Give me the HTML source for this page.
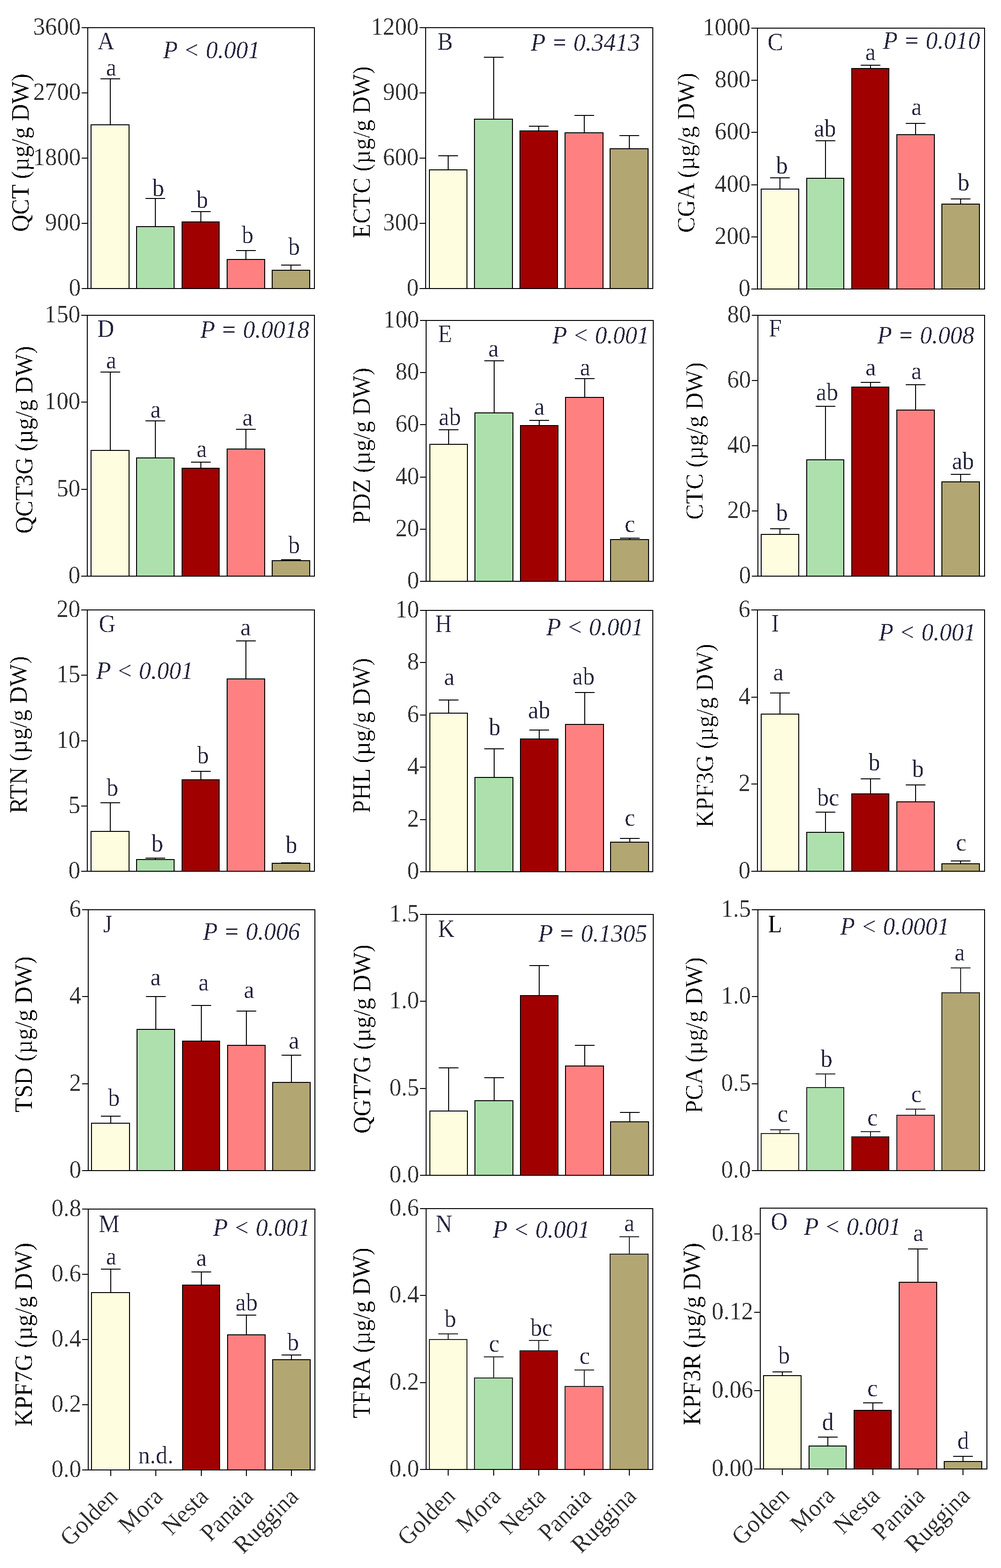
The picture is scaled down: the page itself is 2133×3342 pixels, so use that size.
<!DOCTYPE html>
<html><head><meta charset="utf-8"><title>Figure</title>
<style>
html,body{margin:0;padding:0;background:#fff;}
svg{display:block;}
text{font-family:'Liberation Serif', 'Times New Roman', serif;}
.e{stroke:#000;stroke-width:2;fill:none;}
.b{stroke:#000;stroke-width:2;}
.fr{stroke:#000;stroke-width:2;fill:none;}
.tk{font-size:52.4px;fill:#303030;text-anchor:end;}
.xl{font-size:52.5px;fill:#303030;text-anchor:end;}
.lt{font-size:52.9px;fill:#25253f;text-anchor:middle;}
.pl{font-size:52.5px;fill:#25253f;}
.pv{font-size:53px;fill:#25253f;font-style:italic;}
.yl{font-size:52px;fill:#000;text-anchor:middle;}
</style></head>
<body>
<svg width="2133" height="3342" viewBox="0 0 2133 3342">
<rect width="2133" height="3342" fill="#fff"/>
<defs><filter id="al" x="0" y="0" width="2133" height="3342" filterUnits="userSpaceOnUse" color-interpolation-filters="sRGB"><feComponentTransfer><feFuncA type="discrete" tableValues="0 0 1"/></feComponentTransfer></filter></defs>
<g id="pA"><line x1="235" y1="266" x2="235" y2="168" class="e eb"/><line x1="214" y1="168" x2="256" y2="168" class="e eb"/><rect x="194" y="266" width="81" height="349" fill="#FFFDE0" class="b"/><line x1="331" y1="483" x2="331" y2="423" class="e eb"/><line x1="310" y1="423" x2="352" y2="423" class="e eb"/><rect x="291" y="483" width="80" height="132" fill="#AEE0AE" class="b"/><line x1="428" y1="473" x2="428" y2="451" class="e eb"/><line x1="407" y1="451" x2="449" y2="451" class="e eb"/><rect x="388" y="473" width="79" height="142" fill="#A00000" class="b"/><line x1="524" y1="553" x2="524" y2="534" class="e eb"/><line x1="503" y1="534" x2="545" y2="534" class="e eb"/><rect x="484" y="553" width="80" height="62" fill="#FF8080" class="b"/><line x1="620" y1="576" x2="620" y2="565" class="e eb"/><line x1="599" y1="565" x2="641" y2="565" class="e eb"/><rect x="580" y="576" width="80" height="39" fill="#B2A673" class="b"/><rect x="187" y="59" width="483" height="556" class="fr"/><line x1="174" y1="615" x2="187" y2="615" class="e"/><line x1="174" y1="476" x2="187" y2="476" class="e"/><line x1="174" y1="337" x2="187" y2="337" class="e"/><line x1="174" y1="198" x2="187" y2="198" class="e"/><line x1="174" y1="59" x2="187" y2="59" class="e"/></g>
<g id="pB"><line x1="955" y1="362" x2="955" y2="332" class="e eb"/><line x1="934" y1="332" x2="976" y2="332" class="e eb"/><rect x="915" y="362" width="80" height="253" fill="#FFFDE0" class="b"/><line x1="1052" y1="254" x2="1052" y2="122" class="e eb"/><line x1="1031" y1="122" x2="1073" y2="122" class="e eb"/><rect x="1011" y="254" width="81" height="361" fill="#AEE0AE" class="b"/><line x1="1148" y1="279" x2="1148" y2="269" class="e eb"/><line x1="1127" y1="269" x2="1169" y2="269" class="e eb"/><rect x="1108" y="279" width="80" height="336" fill="#A00000" class="b"/><line x1="1245" y1="283" x2="1245" y2="246" class="e eb"/><line x1="1224" y1="246" x2="1266" y2="246" class="e eb"/><rect x="1204" y="283" width="81" height="332" fill="#FF8080" class="b"/><line x1="1341" y1="317" x2="1341" y2="289" class="e eb"/><line x1="1320" y1="289" x2="1362" y2="289" class="e eb"/><rect x="1300" y="317" width="81" height="298" fill="#B2A673" class="b"/><rect x="907" y="59" width="484" height="556" class="fr"/><line x1="894" y1="615" x2="907" y2="615" class="e"/><line x1="894" y1="476" x2="907" y2="476" class="e"/><line x1="894" y1="337" x2="907" y2="337" class="e"/><line x1="894" y1="198" x2="907" y2="198" class="e"/><line x1="894" y1="59" x2="907" y2="59" class="e"/></g>
<g id="pC"><line x1="1662" y1="403" x2="1662" y2="379" class="e eb"/><line x1="1641" y1="379" x2="1683" y2="379" class="e eb"/><rect x="1622" y="403" width="80" height="213" fill="#FFFDE0" class="b"/><line x1="1759" y1="380" x2="1759" y2="300" class="e eb"/><line x1="1738" y1="300" x2="1780" y2="300" class="e eb"/><rect x="1719" y="380" width="79" height="236" fill="#AEE0AE" class="b"/><line x1="1855" y1="146" x2="1855" y2="139" class="e eb"/><line x1="1834" y1="139" x2="1876" y2="139" class="e eb"/><rect x="1815" y="146" width="79" height="470" fill="#A00000" class="b"/><line x1="1951" y1="287" x2="1951" y2="263" class="e eb"/><line x1="1930" y1="263" x2="1972" y2="263" class="e eb"/><rect x="1911" y="287" width="80" height="329" fill="#FF8080" class="b"/><line x1="2047" y1="435" x2="2047" y2="424" class="e eb"/><line x1="2026" y1="424" x2="2068" y2="424" class="e eb"/><rect x="2007" y="435" width="80" height="181" fill="#B2A673" class="b"/><rect x="1614" y="60" width="484" height="556" class="fr"/><line x1="1601" y1="616" x2="1614" y2="616" class="e"/><line x1="1601" y1="505" x2="1614" y2="505" class="e"/><line x1="1601" y1="394" x2="1614" y2="394" class="e"/><line x1="1601" y1="282" x2="1614" y2="282" class="e"/><line x1="1601" y1="171" x2="1614" y2="171" class="e"/><line x1="1601" y1="60" x2="1614" y2="60" class="e"/></g>
<g id="pD"><line x1="235" y1="960" x2="235" y2="793" class="e eb"/><line x1="214" y1="793" x2="256" y2="793" class="e eb"/><rect x="194" y="960" width="81" height="268" fill="#FFFDE0" class="b"/><line x1="331" y1="976" x2="331" y2="897" class="e eb"/><line x1="310" y1="897" x2="352" y2="897" class="e eb"/><rect x="291" y="976" width="80" height="252" fill="#AEE0AE" class="b"/><line x1="428" y1="998" x2="428" y2="985" class="e eb"/><line x1="407" y1="985" x2="449" y2="985" class="e eb"/><rect x="388" y="998" width="79" height="230" fill="#A00000" class="b"/><line x1="524" y1="957" x2="524" y2="915" class="e eb"/><line x1="503" y1="915" x2="545" y2="915" class="e eb"/><rect x="484" y="957" width="80" height="271" fill="#FF8080" class="b"/><line x1="620" y1="1195" x2="620" y2="1193" class="e eb"/><line x1="599" y1="1193" x2="641" y2="1193" class="e eb"/><rect x="580" y="1195" width="80" height="33" fill="#B2A673" class="b"/><rect x="186" y="672" width="484" height="556" class="fr"/><line x1="173" y1="1228" x2="186" y2="1228" class="e"/><line x1="173" y1="1043" x2="186" y2="1043" class="e"/><line x1="173" y1="857" x2="186" y2="857" class="e"/><line x1="173" y1="672" x2="186" y2="672" class="e"/></g>
<g id="pE"><line x1="956" y1="947" x2="956" y2="916" class="e eb"/><line x1="935" y1="916" x2="977" y2="916" class="e eb"/><rect x="916" y="947" width="80" height="292" fill="#FFFDE0" class="b"/><line x1="1053" y1="880" x2="1053" y2="769" class="e eb"/><line x1="1032" y1="769" x2="1074" y2="769" class="e eb"/><rect x="1012" y="880" width="81" height="359" fill="#AEE0AE" class="b"/><line x1="1149" y1="907" x2="1149" y2="896" class="e eb"/><line x1="1128" y1="896" x2="1170" y2="896" class="e eb"/><rect x="1109" y="907" width="80" height="332" fill="#A00000" class="b"/><line x1="1246" y1="847" x2="1246" y2="807" class="e eb"/><line x1="1225" y1="807" x2="1267" y2="807" class="e eb"/><rect x="1205" y="847" width="81" height="392" fill="#FF8080" class="b"/><line x1="1342" y1="1150" x2="1342" y2="1147" class="e eb"/><line x1="1321" y1="1147" x2="1363" y2="1147" class="e eb"/><rect x="1301" y="1150" width="81" height="89" fill="#B2A673" class="b"/><rect x="908" y="683" width="484" height="556" class="fr"/><line x1="895" y1="1239" x2="908" y2="1239" class="e"/><line x1="895" y1="1128" x2="908" y2="1128" class="e"/><line x1="895" y1="1017" x2="908" y2="1017" class="e"/><line x1="895" y1="905" x2="908" y2="905" class="e"/><line x1="895" y1="794" x2="908" y2="794" class="e"/><line x1="895" y1="683" x2="908" y2="683" class="e"/></g>
<g id="pF"><line x1="1662" y1="1139" x2="1662" y2="1127" class="e eb"/><line x1="1641" y1="1127" x2="1683" y2="1127" class="e eb"/><rect x="1622" y="1139" width="80" height="89" fill="#FFFDE0" class="b"/><line x1="1759" y1="980" x2="1759" y2="866" class="e eb"/><line x1="1738" y1="866" x2="1780" y2="866" class="e eb"/><rect x="1719" y="980" width="79" height="248" fill="#AEE0AE" class="b"/><line x1="1855" y1="825" x2="1855" y2="815" class="e eb"/><line x1="1834" y1="815" x2="1876" y2="815" class="e eb"/><rect x="1815" y="825" width="79" height="403" fill="#A00000" class="b"/><line x1="1951" y1="874" x2="1951" y2="820" class="e eb"/><line x1="1930" y1="820" x2="1972" y2="820" class="e eb"/><rect x="1911" y="874" width="80" height="354" fill="#FF8080" class="b"/><line x1="2047" y1="1027" x2="2047" y2="1011" class="e eb"/><line x1="2026" y1="1011" x2="2068" y2="1011" class="e eb"/><rect x="2007" y="1027" width="80" height="201" fill="#B2A673" class="b"/><rect x="1615" y="672" width="483" height="556" class="fr"/><line x1="1602" y1="1228" x2="1615" y2="1228" class="e"/><line x1="1602" y1="1089" x2="1615" y2="1089" class="e"/><line x1="1602" y1="950" x2="1615" y2="950" class="e"/><line x1="1602" y1="811" x2="1615" y2="811" class="e"/><line x1="1602" y1="672" x2="1615" y2="672" class="e"/></g>
<g id="pG"><line x1="235" y1="1772" x2="235" y2="1711" class="e eb"/><line x1="214" y1="1711" x2="256" y2="1711" class="e eb"/><rect x="194" y="1772" width="81" height="85" fill="#FFFDE0" class="b"/><line x1="331" y1="1832" x2="331" y2="1829" class="e eb"/><line x1="310" y1="1829" x2="352" y2="1829" class="e eb"/><rect x="291" y="1832" width="80" height="25" fill="#AEE0AE" class="b"/><line x1="428" y1="1662" x2="428" y2="1644" class="e eb"/><line x1="407" y1="1644" x2="449" y2="1644" class="e eb"/><rect x="388" y="1662" width="79" height="195" fill="#A00000" class="b"/><line x1="524" y1="1447" x2="524" y2="1366" class="e eb"/><line x1="503" y1="1366" x2="545" y2="1366" class="e eb"/><rect x="484" y="1447" width="80" height="410" fill="#FF8080" class="b"/><line x1="620" y1="1840" x2="620" y2="1839" class="e eb"/><line x1="599" y1="1839" x2="641" y2="1839" class="e eb"/><rect x="580" y="1840" width="80" height="17" fill="#B2A673" class="b"/><rect x="186" y="1300" width="484" height="557" class="fr"/><line x1="173" y1="1857" x2="186" y2="1857" class="e"/><line x1="173" y1="1718" x2="186" y2="1718" class="e"/><line x1="173" y1="1579" x2="186" y2="1579" class="e"/><line x1="173" y1="1439" x2="186" y2="1439" class="e"/><line x1="173" y1="1300" x2="186" y2="1300" class="e"/></g>
<g id="pH"><line x1="956" y1="1520" x2="956" y2="1492" class="e eb"/><line x1="935" y1="1492" x2="977" y2="1492" class="e eb"/><rect x="916" y="1520" width="80" height="338" fill="#FFFDE0" class="b"/><line x1="1053" y1="1657" x2="1053" y2="1596" class="e eb"/><line x1="1032" y1="1596" x2="1074" y2="1596" class="e eb"/><rect x="1012" y="1657" width="81" height="201" fill="#AEE0AE" class="b"/><line x1="1149" y1="1575" x2="1149" y2="1556" class="e eb"/><line x1="1128" y1="1556" x2="1170" y2="1556" class="e eb"/><rect x="1109" y="1575" width="80" height="283" fill="#A00000" class="b"/><line x1="1246" y1="1544" x2="1246" y2="1476" class="e eb"/><line x1="1225" y1="1476" x2="1267" y2="1476" class="e eb"/><rect x="1205" y="1544" width="81" height="314" fill="#FF8080" class="b"/><line x1="1342" y1="1795" x2="1342" y2="1787" class="e eb"/><line x1="1321" y1="1787" x2="1363" y2="1787" class="e eb"/><rect x="1301" y="1795" width="81" height="63" fill="#B2A673" class="b"/><rect x="908" y="1301" width="483" height="557" class="fr"/><line x1="895" y1="1858" x2="908" y2="1858" class="e"/><line x1="895" y1="1747" x2="908" y2="1747" class="e"/><line x1="895" y1="1635" x2="908" y2="1635" class="e"/><line x1="895" y1="1524" x2="908" y2="1524" class="e"/><line x1="895" y1="1412" x2="908" y2="1412" class="e"/><line x1="895" y1="1301" x2="908" y2="1301" class="e"/></g>
<g id="pI"><line x1="1662" y1="1522" x2="1662" y2="1477" class="e eb"/><line x1="1641" y1="1477" x2="1683" y2="1477" class="e eb"/><rect x="1622" y="1522" width="80" height="335" fill="#FFFDE0" class="b"/><line x1="1759" y1="1774" x2="1759" y2="1731" class="e eb"/><line x1="1738" y1="1731" x2="1780" y2="1731" class="e eb"/><rect x="1719" y="1774" width="79" height="83" fill="#AEE0AE" class="b"/><line x1="1855" y1="1692" x2="1855" y2="1660" class="e eb"/><line x1="1834" y1="1660" x2="1876" y2="1660" class="e eb"/><rect x="1815" y="1692" width="79" height="165" fill="#A00000" class="b"/><line x1="1951" y1="1709" x2="1951" y2="1673" class="e eb"/><line x1="1930" y1="1673" x2="1972" y2="1673" class="e eb"/><rect x="1911" y="1709" width="80" height="148" fill="#FF8080" class="b"/><line x1="2047" y1="1841" x2="2047" y2="1835" class="e eb"/><line x1="2026" y1="1835" x2="2068" y2="1835" class="e eb"/><rect x="2007" y="1841" width="80" height="16" fill="#B2A673" class="b"/><rect x="1614" y="1300" width="484" height="557" class="fr"/><line x1="1601" y1="1857" x2="1614" y2="1857" class="e"/><line x1="1601" y1="1671" x2="1614" y2="1671" class="e"/><line x1="1601" y1="1486" x2="1614" y2="1486" class="e"/><line x1="1601" y1="1300" x2="1614" y2="1300" class="e"/></g>
<g id="pJ"><line x1="236" y1="2394" x2="236" y2="2379" class="e eb"/><line x1="215" y1="2379" x2="257" y2="2379" class="e eb"/><rect x="195" y="2394" width="81" height="101" fill="#FFFDE0" class="b"/><line x1="332" y1="2194" x2="332" y2="2124" class="e eb"/><line x1="311" y1="2124" x2="353" y2="2124" class="e eb"/><rect x="292" y="2194" width="80" height="301" fill="#AEE0AE" class="b"/><line x1="429" y1="2219" x2="429" y2="2143" class="e eb"/><line x1="408" y1="2143" x2="450" y2="2143" class="e eb"/><rect x="389" y="2219" width="79" height="276" fill="#A00000" class="b"/><line x1="525" y1="2228" x2="525" y2="2155" class="e eb"/><line x1="504" y1="2155" x2="546" y2="2155" class="e eb"/><rect x="485" y="2228" width="80" height="267" fill="#FF8080" class="b"/><line x1="621" y1="2307" x2="621" y2="2249" class="e eb"/><line x1="600" y1="2249" x2="642" y2="2249" class="e eb"/><rect x="581" y="2307" width="80" height="188" fill="#B2A673" class="b"/><rect x="188" y="1939" width="483" height="556" class="fr"/><line x1="175" y1="2495" x2="188" y2="2495" class="e"/><line x1="175" y1="2310" x2="188" y2="2310" class="e"/><line x1="175" y1="2124" x2="188" y2="2124" class="e"/><line x1="175" y1="1939" x2="188" y2="1939" class="e"/></g>
<g id="pK"><line x1="956" y1="2368" x2="956" y2="2276" class="e eb"/><line x1="935" y1="2276" x2="977" y2="2276" class="e eb"/><rect x="916" y="2368" width="80" height="137" fill="#FFFDE0" class="b"/><line x1="1053" y1="2346" x2="1053" y2="2297" class="e eb"/><line x1="1032" y1="2297" x2="1074" y2="2297" class="e eb"/><rect x="1012" y="2346" width="81" height="159" fill="#AEE0AE" class="b"/><line x1="1149" y1="2122" x2="1149" y2="2058" class="e eb"/><line x1="1128" y1="2058" x2="1170" y2="2058" class="e eb"/><rect x="1109" y="2122" width="80" height="383" fill="#A00000" class="b"/><line x1="1246" y1="2272" x2="1246" y2="2228" class="e eb"/><line x1="1225" y1="2228" x2="1267" y2="2228" class="e eb"/><rect x="1205" y="2272" width="81" height="233" fill="#FF8080" class="b"/><line x1="1342" y1="2391" x2="1342" y2="2371" class="e eb"/><line x1="1321" y1="2371" x2="1363" y2="2371" class="e eb"/><rect x="1301" y="2391" width="81" height="114" fill="#B2A673" class="b"/><rect x="908" y="1949" width="484" height="556" class="fr"/><line x1="895" y1="2505" x2="908" y2="2505" class="e"/><line x1="895" y1="2320" x2="908" y2="2320" class="e"/><line x1="895" y1="2134" x2="908" y2="2134" class="e"/><line x1="895" y1="1949" x2="908" y2="1949" class="e"/></g>
<g id="pL"><line x1="1662" y1="2416" x2="1662" y2="2408" class="e eb" style="stroke:#202022"/><line x1="1641" y1="2408" x2="1683" y2="2408" class="e eb" style="stroke:#202022"/><rect x="1622" y="2416" width="80" height="79" fill="#FFFDE0" class="b" style="stroke:#202022"/><line x1="1759" y1="2318" x2="1759" y2="2289" class="e eb" style="stroke:#202022"/><line x1="1738" y1="2289" x2="1780" y2="2289" class="e eb" style="stroke:#202022"/><rect x="1719" y="2318" width="79" height="177" fill="#AEE0AE" class="b" style="stroke:#202022"/><line x1="1855" y1="2423" x2="1855" y2="2412" class="e eb" style="stroke:#202022"/><line x1="1834" y1="2412" x2="1876" y2="2412" class="e eb" style="stroke:#202022"/><rect x="1815" y="2423" width="79" height="72" fill="#A00000" class="b" style="stroke:#202022"/><line x1="1951" y1="2377" x2="1951" y2="2364" class="e eb" style="stroke:#202022"/><line x1="1930" y1="2364" x2="1972" y2="2364" class="e eb" style="stroke:#202022"/><rect x="1911" y="2377" width="80" height="118" fill="#FF8080" class="b" style="stroke:#202022"/><line x1="2047" y1="2116" x2="2047" y2="2063" class="e eb" style="stroke:#202022"/><line x1="2026" y1="2063" x2="2068" y2="2063" class="e eb" style="stroke:#202022"/><rect x="2007" y="2116" width="80" height="379" fill="#B2A673" class="b" style="stroke:#202022"/><rect x="1615" y="1939" width="483" height="556" class="fr"/><line x1="1602" y1="2495" x2="1615" y2="2495" class="e"/><line x1="1602" y1="2310" x2="1615" y2="2310" class="e"/><line x1="1602" y1="2124" x2="1615" y2="2124" class="e"/><line x1="1602" y1="1939" x2="1615" y2="1939" class="e"/></g>
<g id="pM"><line x1="236" y1="2755" x2="236" y2="2705" class="e eb"/><line x1="215" y1="2705" x2="257" y2="2705" class="e eb"/><rect x="195" y="2755" width="81" height="378" fill="#FFFDE0" class="b"/><line x1="429" y1="2739" x2="429" y2="2711" class="e eb"/><line x1="408" y1="2711" x2="450" y2="2711" class="e eb"/><rect x="389" y="2739" width="79" height="394" fill="#A00000" class="b"/><line x1="525" y1="2845" x2="525" y2="2803" class="e eb"/><line x1="504" y1="2803" x2="546" y2="2803" class="e eb"/><rect x="485" y="2845" width="80" height="288" fill="#FF8080" class="b"/><line x1="621" y1="2898" x2="621" y2="2888" class="e eb"/><line x1="600" y1="2888" x2="642" y2="2888" class="e eb"/><rect x="581" y="2898" width="80" height="235" fill="#B2A673" class="b"/><rect x="188" y="2577" width="483" height="556" class="fr"/><line x1="175" y1="3133" x2="188" y2="3133" class="e"/><line x1="175" y1="2994" x2="188" y2="2994" class="e"/><line x1="175" y1="2855" x2="188" y2="2855" class="e"/><line x1="175" y1="2716" x2="188" y2="2716" class="e"/><line x1="175" y1="2577" x2="188" y2="2577" class="e"/><line x1="236" y1="3133" x2="236" y2="3146" class="e"/><line x1="332" y1="3133" x2="332" y2="3146" class="e"/><line x1="429" y1="3133" x2="429" y2="3146" class="e"/><line x1="525" y1="3133" x2="525" y2="3146" class="e"/><line x1="621" y1="3133" x2="621" y2="3146" class="e"/></g>
<g id="pN"><line x1="955" y1="2855" x2="955" y2="2843" class="e eb" style="stroke:#202022"/><line x1="934" y1="2843" x2="976" y2="2843" class="e eb" style="stroke:#202022"/><rect x="915" y="2855" width="80" height="277" fill="#FFFDE0" class="b" style="stroke:#202022"/><line x1="1052" y1="2937" x2="1052" y2="2892" class="e eb" style="stroke:#202022"/><line x1="1031" y1="2892" x2="1073" y2="2892" class="e eb" style="stroke:#202022"/><rect x="1011" y="2937" width="81" height="195" fill="#AEE0AE" class="b" style="stroke:#202022"/><line x1="1148" y1="2879" x2="1148" y2="2857" class="e eb" style="stroke:#202022"/><line x1="1127" y1="2857" x2="1169" y2="2857" class="e eb" style="stroke:#202022"/><rect x="1108" y="2879" width="80" height="253" fill="#A00000" class="b" style="stroke:#202022"/><line x1="1245" y1="2955" x2="1245" y2="2920" class="e eb" style="stroke:#202022"/><line x1="1224" y1="2920" x2="1266" y2="2920" class="e eb" style="stroke:#202022"/><rect x="1204" y="2955" width="81" height="177" fill="#FF8080" class="b" style="stroke:#202022"/><line x1="1341" y1="2673" x2="1341" y2="2636" class="e eb" style="stroke:#202022"/><line x1="1320" y1="2636" x2="1362" y2="2636" class="e eb" style="stroke:#202022"/><rect x="1300" y="2673" width="81" height="459" fill="#B2A673" class="b" style="stroke:#202022"/><rect x="908" y="2576" width="483" height="556" class="fr"/><line x1="895" y1="3132" x2="908" y2="3132" class="e"/><line x1="895" y1="2947" x2="908" y2="2947" class="e"/><line x1="895" y1="2761" x2="908" y2="2761" class="e"/><line x1="895" y1="2576" x2="908" y2="2576" class="e"/><line x1="955" y1="3132" x2="955" y2="3145" class="e"/><line x1="1052" y1="3132" x2="1052" y2="3145" class="e"/><line x1="1148" y1="3132" x2="1148" y2="3145" class="e"/><line x1="1245" y1="3132" x2="1245" y2="3145" class="e"/><line x1="1341" y1="3132" x2="1341" y2="3145" class="e"/></g>
<g id="pO"><line x1="1667" y1="2932" x2="1667" y2="2924" class="e eb"/><line x1="1646" y1="2924" x2="1688" y2="2924" class="e eb"/><rect x="1627" y="2932" width="80" height="199" fill="#FFFDE0" class="b"/><line x1="1764" y1="3082" x2="1764" y2="3063" class="e eb"/><line x1="1743" y1="3063" x2="1785" y2="3063" class="e eb"/><rect x="1724" y="3082" width="79" height="49" fill="#AEE0AE" class="b"/><line x1="1860" y1="3006" x2="1860" y2="2990" class="e eb"/><line x1="1839" y1="2990" x2="1881" y2="2990" class="e eb"/><rect x="1820" y="3006" width="79" height="125" fill="#A00000" class="b"/><line x1="1956" y1="2733" x2="1956" y2="2662" class="e eb"/><line x1="1935" y1="2662" x2="1977" y2="2662" class="e eb"/><rect x="1916" y="2733" width="80" height="398" fill="#FF8080" class="b"/><line x1="2052" y1="3115" x2="2052" y2="3104" class="e eb"/><line x1="2031" y1="3104" x2="2073" y2="3104" class="e eb"/><rect x="2012" y="3115" width="80" height="16" fill="#B2A673" class="b"/><rect x="1620" y="2575" width="483" height="556" class="fr"/><line x1="1607" y1="2630" x2="1620" y2="2630" class="e"/><line x1="1607" y1="2797" x2="1620" y2="2797" class="e"/><line x1="1607" y1="2964" x2="1620" y2="2964" class="e"/><line x1="1607" y1="3131" x2="1620" y2="3131" class="e"/><line x1="1667" y1="3131" x2="1667" y2="3144" class="e"/><line x1="1764" y1="3131" x2="1764" y2="3144" class="e"/><line x1="1860" y1="3131" x2="1860" y2="3144" class="e"/><line x1="1956" y1="3131" x2="1956" y2="3144" class="e"/><line x1="2052" y1="3131" x2="2052" y2="3144" class="e"/></g>
<g filter="url(#al)"><text transform="translate(172,629.5) scale(0.966,1)" class="tk">0</text><text transform="translate(172,490.5) scale(0.966,1)" class="tk">900</text><text transform="translate(172,351.5) scale(0.966,1)" class="tk">1800</text><text transform="translate(172,212.5) scale(0.966,1)" class="tk">2700</text><text transform="translate(172,73.5) scale(0.966,1)" class="tk">3600</text><text transform="translate(237.2,161.3) scale(0.945,1)" class="lt">a</text><text transform="translate(337.3,417.7) scale(0.945,1)" class="lt">b</text><text transform="translate(430.9,442.7) scale(0.945,1)" class="lt">b</text><text transform="translate(527.6,517.8) scale(0.945,1)" class="lt">b</text><text transform="translate(626.5,542.9) scale(0.945,1)" class="lt">b</text><text transform="translate(208,104.8) scale(0.945,1)" class="pl">A</text><text transform="translate(347.4,123.5) scale(0.972,1)" class="pv">P < 0.001</text><text transform="translate(61,325.6) rotate(-90) scale(0.973,1)" class="yl">QCT (µg/g DW)</text>
<text transform="translate(892,629.5) scale(0.966,1)" class="tk">0</text><text transform="translate(892,490.5) scale(0.966,1)" class="tk">300</text><text transform="translate(892,351.5) scale(0.966,1)" class="tk">600</text><text transform="translate(892,212.5) scale(0.966,1)" class="tk">900</text><text transform="translate(892,73.5) scale(0.966,1)" class="tk">1200</text><text transform="translate(932,105.6) scale(0.945,1)" class="pl">B</text><text transform="translate(1131,108) scale(0.972,1)" class="pv">P = 0.3413</text><text transform="translate(788.2,324.5) rotate(-90) scale(0.973,1)" class="yl">ECTC (µg/g DW)</text>
<text transform="translate(1599,630.5) scale(0.966,1)" class="tk">0</text><text transform="translate(1599,519.5) scale(0.966,1)" class="tk">200</text><text transform="translate(1599,408.5) scale(0.966,1)" class="tk">400</text><text transform="translate(1599,296.5) scale(0.966,1)" class="tk">600</text><text transform="translate(1599,185.5) scale(0.966,1)" class="tk">800</text><text transform="translate(1599,74.5) scale(0.966,1)" class="tk">1000</text><text transform="translate(1666.2,369.9) scale(0.945,1)" class="lt">b</text><text transform="translate(1758,290.6) scale(0.945,1)" class="lt">ab</text><text transform="translate(1854.9,127.6) scale(0.945,1)" class="lt">a</text><text transform="translate(1953.2,245) scale(0.945,1)" class="lt">a</text><text transform="translate(2053.3,406.3) scale(0.945,1)" class="lt">b</text><text transform="translate(1635.6,107) scale(0.945,1)" class="pl">C</text><text transform="translate(1881.5,103.8) scale(0.972,1)" class="pv">P = 0.010</text><text transform="translate(1479.5,325.6) rotate(-90) scale(0.973,1)" class="yl">CGA (µg/g DW)</text>
<text transform="translate(171,1242.5) scale(0.966,1)" class="tk">0</text><text transform="translate(171,1057.5) scale(0.966,1)" class="tk">50</text><text transform="translate(171,871.5) scale(0.966,1)" class="tk">100</text><text transform="translate(171,686.5) scale(0.966,1)" class="tk">150</text><text transform="translate(237.2,785) scale(0.945,1)" class="lt">a</text><text transform="translate(331.7,889.7) scale(0.945,1)" class="lt">a</text><text transform="translate(429.9,973.9) scale(0.945,1)" class="lt">a</text><text transform="translate(527.5,907) scale(0.945,1)" class="lt">a</text><text transform="translate(626.7,1178.8) scale(0.945,1)" class="lt">b</text><text transform="translate(207.5,718) scale(0.945,1)" class="pl">D</text><text transform="translate(426.7,720.2) scale(0.972,1)" class="pv">P = 0.0018</text><text transform="translate(69,937.7) rotate(-90) scale(0.973,1)" class="yl">QCT3G (µg/g DW)</text>
<text transform="translate(893,1253.5) scale(0.966,1)" class="tk">0</text><text transform="translate(893,1142.5) scale(0.966,1)" class="tk">20</text><text transform="translate(893,1031.5) scale(0.966,1)" class="tk">40</text><text transform="translate(893,919.5) scale(0.966,1)" class="tk">60</text><text transform="translate(893,808.5) scale(0.966,1)" class="tk">80</text><text transform="translate(893,697.5) scale(0.966,1)" class="tk">100</text><text transform="translate(958.7,905.6) scale(0.945,1)" class="lt">ab</text><text transform="translate(1051.7,759.9) scale(0.945,1)" class="lt">a</text><text transform="translate(1149.3,884.2) scale(0.945,1)" class="lt">a</text><text transform="translate(1246.8,800) scale(0.945,1)" class="lt">a</text><text transform="translate(1342.4,1134.2) scale(0.945,1)" class="lt">c</text><text transform="translate(933,729.3) scale(0.945,1)" class="pl">E</text><text transform="translate(1176.7,731.6) scale(0.972,1)" class="pv">P < 0.001</text><text transform="translate(788.2,950) rotate(-90) scale(0.973,1)" class="yl">PDZ (µg/g DW)</text>
<text transform="translate(1600,1242.5) scale(0.966,1)" class="tk">0</text><text transform="translate(1600,1103.5) scale(0.966,1)" class="tk">20</text><text transform="translate(1600,964.5) scale(0.966,1)" class="tk">40</text><text transform="translate(1600,825.5) scale(0.966,1)" class="tk">60</text><text transform="translate(1600,686.5) scale(0.966,1)" class="tk">80</text><text transform="translate(1666.2,1109.6) scale(0.945,1)" class="lt">b</text><text transform="translate(1762.5,853.2) scale(0.945,1)" class="lt">ab</text><text transform="translate(1855.3,799.5) scale(0.945,1)" class="lt">a</text><text transform="translate(1952.8,807.7) scale(0.945,1)" class="lt">a</text><text transform="translate(2052,999.9) scale(0.945,1)" class="lt">ab</text><text transform="translate(1637.9,716.5) scale(0.945,1)" class="pl">F</text><text transform="translate(1869.3,731.6) scale(0.972,1)" class="pv">P = 0.008</text><text transform="translate(1497.5,940) rotate(-90) scale(0.973,1)" class="yl">CTC (µg/g DW)</text>
<text transform="translate(171,1871.5) scale(0.966,1)" class="tk">0</text><text transform="translate(171,1732.5) scale(0.966,1)" class="tk">5</text><text transform="translate(171,1593.5) scale(0.966,1)" class="tk">10</text><text transform="translate(171,1453.5) scale(0.966,1)" class="tk">15</text><text transform="translate(171,1314.5) scale(0.966,1)" class="tk">20</text><text transform="translate(239.5,1695.5) scale(0.945,1)" class="lt">b</text><text transform="translate(335.3,1814.8) scale(0.945,1)" class="lt">b</text><text transform="translate(432.6,1627.2) scale(0.945,1)" class="lt">b</text><text transform="translate(523.3,1353.5) scale(0.945,1)" class="lt">a</text><text transform="translate(620.9,1818.4) scale(0.945,1)" class="lt">b</text><text transform="translate(210.4,1347) scale(0.945,1)" class="pl">G</text><text transform="translate(204.9,1447.2) scale(0.972,1)" class="pv">P < 0.001</text><text transform="translate(57,1566) rotate(-90) scale(0.973,1)" class="yl">RTN (µg/g DW)</text>
<text transform="translate(893,1872.5) scale(0.966,1)" class="tk">0</text><text transform="translate(893,1761.5) scale(0.966,1)" class="tk">2</text><text transform="translate(893,1649.5) scale(0.966,1)" class="tk">4</text><text transform="translate(893,1538.5) scale(0.966,1)" class="tk">6</text><text transform="translate(893,1426.5) scale(0.966,1)" class="tk">8</text><text transform="translate(893,1315.5) scale(0.966,1)" class="tk">10</text><text transform="translate(957.3,1459.6) scale(0.945,1)" class="lt">a</text><text transform="translate(1054.1,1566.6) scale(0.945,1)" class="lt">b</text><text transform="translate(1148.8,1531) scale(0.945,1)" class="lt">ab</text><text transform="translate(1243.3,1458.7) scale(0.945,1)" class="lt">ab</text><text transform="translate(1342.4,1760.1) scale(0.945,1)" class="lt">c</text><text transform="translate(927.2,1347) scale(0.945,1)" class="pl">H</text><text transform="translate(1164,1353.8) scale(0.972,1)" class="pv">P < 0.001</text><text transform="translate(788,1568) rotate(-90) scale(0.973,1)" class="yl">PHL (µg/g DW)</text>
<text transform="translate(1599,1871.5) scale(0.966,1)" class="tk">0</text><text transform="translate(1599,1685.5) scale(0.966,1)" class="tk">2</text><text transform="translate(1599,1500.5) scale(0.966,1)" class="tk">4</text><text transform="translate(1599,1314.5) scale(0.966,1)" class="tk">6</text><text transform="translate(1658.6,1449.6) scale(0.945,1)" class="lt">a</text><text transform="translate(1764.9,1716.9) scale(0.945,1)" class="lt">bc</text><text transform="translate(1863,1641.7) scale(0.945,1)" class="lt">b</text><text transform="translate(1955.9,1656.3) scale(0.945,1)" class="lt">b</text><text transform="translate(2048.3,1812.5) scale(0.945,1)" class="lt">c</text><text transform="translate(1643.4,1345.6) scale(0.945,1)" class="pl">I</text><text transform="translate(1872.4,1365.2) scale(0.972,1)" class="pv">P < 0.001</text><text transform="translate(1519.4,1568) rotate(-90) scale(0.973,1)" class="yl">KPF3G (µg/g DW)</text>
<text transform="translate(173,2509.5) scale(0.966,1)" class="tk">0</text><text transform="translate(173,2324.5) scale(0.966,1)" class="tk">2</text><text transform="translate(173,2138.5) scale(0.966,1)" class="tk">4</text><text transform="translate(173,1953.5) scale(0.966,1)" class="tk">6</text><text transform="translate(242.8,2356.9) scale(0.945,1)" class="lt">b</text><text transform="translate(331.7,2099.6) scale(0.945,1)" class="lt">a</text><text transform="translate(433.8,2111) scale(0.945,1)" class="lt">a</text><text transform="translate(530.7,2126.9) scale(0.945,1)" class="lt">a</text><text transform="translate(626.4,2235.3) scale(0.945,1)" class="lt">a</text><text transform="translate(220,1987) scale(0.945,1)" class="pl">J</text><text transform="translate(432.6,2003) scale(0.972,1)" class="pv">P = 0.006</text><text transform="translate(68,2204.5) rotate(-90) scale(0.973,1)" class="yl">TSD (µg/g DW)</text>
<text transform="translate(893,2519.5) scale(0.966,1)" class="tk">0.0</text><text transform="translate(893,2334.5) scale(0.966,1)" class="tk">0.5</text><text transform="translate(893,2148.5) scale(0.966,1)" class="tk">1.0</text><text transform="translate(893,1963.5) scale(0.966,1)" class="tk">1.5</text><text transform="translate(933,1997) scale(0.945,1)" class="pl">K</text><text transform="translate(1146.7,2006.6) scale(0.972,1)" class="pv">P = 0.1305</text><text transform="translate(789,2214.7) rotate(-90) scale(0.973,1)" class="yl">QGT7G (µg/g DW)</text>
<text transform="translate(1600,2509.5) scale(0.966,1)" class="tk">0.0</text><text transform="translate(1600,2324.5) scale(0.966,1)" class="tk">0.5</text><text transform="translate(1600,2138.5) scale(0.966,1)" class="tk">1.0</text><text transform="translate(1600,1953.5) scale(0.966,1)" class="tk">1.5</text><text transform="translate(1667.8,2391) scale(0.945,1)" class="lt">c</text><text transform="translate(1761.2,2273.5) scale(0.945,1)" class="lt">b</text><text transform="translate(1859.4,2399.2) scale(0.945,1)" class="lt">c</text><text transform="translate(1952.7,2349.1) scale(0.945,1)" class="lt">c</text><text transform="translate(2045,2047.2) scale(0.945,1)" class="lt">a</text><text transform="translate(1636.5,1987) scale(0.945,1)" class="pl" style="fill:#000">L</text><text transform="translate(1790.5,1991.6) scale(0.972,1)" class="pv">P < 0.0001</text><text transform="translate(1496.6,2206.7) rotate(-90) scale(0.973,1)" class="yl">PCA (µg/g DW)</text>
<text transform="translate(173,3147.5) scale(0.966,1)" class="tk">0.0</text><text transform="translate(173,3008.5) scale(0.966,1)" class="tk">0.2</text><text transform="translate(173,2869.5) scale(0.966,1)" class="tk">0.4</text><text transform="translate(173,2730.5) scale(0.966,1)" class="tk">0.6</text><text transform="translate(173,2591.5) scale(0.966,1)" class="tk">0.8</text><text transform="translate(254,3193) rotate(-45) scale(0.96,1)" class="xl">Golden</text><text transform="translate(350,3193) rotate(-45) scale(0.96,1)" class="xl">Mora</text><text transform="translate(447,3193) rotate(-45) scale(0.96,1)" class="xl">Nesta</text><text transform="translate(543,3193) rotate(-45) scale(0.96,1)" class="xl">Panaia</text><text transform="translate(639,3193) rotate(-45) scale(0.96,1)" class="xl">Ruggina</text><text transform="translate(237.2,2695.4) scale(0.945,1)" class="lt">a</text><text transform="translate(331.9,3118.5) scale(0.945,1)" class="lt">n.d.</text><text transform="translate(429.4,2697.7) scale(0.945,1)" class="lt">a</text><text transform="translate(525.4,2793.3) scale(0.945,1)" class="lt">ab</text><text transform="translate(624.6,2877.6) scale(0.945,1)" class="lt">b</text><text transform="translate(210.4,2625.6) scale(0.945,1)" class="pl">M</text><text transform="translate(454,2633.8) scale(0.972,1)" class="pv">P < 0.001</text><text transform="translate(68,2844.5) rotate(-90) scale(0.973,1)" class="yl">KPF7G (µg/g DW)</text>
<text transform="translate(893,3146.5) scale(0.966,1)" class="tk">0.0</text><text transform="translate(893,2961.5) scale(0.966,1)" class="tk">0.2</text><text transform="translate(893,2775.5) scale(0.966,1)" class="tk">0.4</text><text transform="translate(893,2590.5) scale(0.966,1)" class="tk">0.6</text><text transform="translate(973,3192) rotate(-45) scale(0.96,1)" class="xl">Golden</text><text transform="translate(1070,3192) rotate(-45) scale(0.96,1)" class="xl">Mora</text><text transform="translate(1166,3192) rotate(-45) scale(0.96,1)" class="xl">Nesta</text><text transform="translate(1263,3192) rotate(-45) scale(0.96,1)" class="xl">Panaia</text><text transform="translate(1359,3192) rotate(-45) scale(0.96,1)" class="xl">Ruggina</text><text transform="translate(959.6,2828.4) scale(0.945,1)" class="lt">b</text><text transform="translate(1053,2880.7) scale(0.945,1)" class="lt">c</text><text transform="translate(1153.6,2846.6) scale(0.945,1)" class="lt">bc</text><text transform="translate(1245.9,2907.2) scale(0.945,1)" class="lt">c</text><text transform="translate(1341.1,2623.5) scale(0.945,1)" class="lt">a</text><text transform="translate(928,2625.6) scale(0.945,1)" class="pl">N</text><text transform="translate(1050,2638.4) scale(0.972,1)" class="pv">P < 0.001</text><text transform="translate(788,2841) rotate(-90) scale(0.973,1)" class="yl">TFRA (µg/g DW)</text>
<text transform="translate(1605,2644.5) scale(0.966,1)" class="tk">0.18</text><text transform="translate(1605,2811.5) scale(0.966,1)" class="tk">0.12</text><text transform="translate(1605,2978.5) scale(0.966,1)" class="tk">0.06</text><text transform="translate(1605,3145.5) scale(0.966,1)" class="tk">0.00</text><text transform="translate(1685,3191) rotate(-45) scale(0.96,1)" class="xl">Golden</text><text transform="translate(1782,3191) rotate(-45) scale(0.96,1)" class="xl">Mora</text><text transform="translate(1878,3191) rotate(-45) scale(0.96,1)" class="xl">Nesta</text><text transform="translate(1974,3191) rotate(-45) scale(0.96,1)" class="xl">Panaia</text><text transform="translate(2070,3191) rotate(-45) scale(0.96,1)" class="xl">Ruggina</text><text transform="translate(1670.8,2905.8) scale(0.945,1)" class="lt">b</text><text transform="translate(1763.9,3047.9) scale(0.945,1)" class="lt">d</text><text transform="translate(1859.4,2976.4) scale(0.945,1)" class="lt">c</text><text transform="translate(1956.9,2644.9) scale(0.945,1)" class="lt">a</text><text transform="translate(2052.6,3088) scale(0.945,1)" class="lt">d</text><text transform="translate(1642.5,2620.5) scale(0.945,1)" class="pl">O</text><text transform="translate(1713,2631.6) scale(0.972,1)" class="pv">P < 0.001</text><text transform="translate(1492,2843.4) rotate(-90) scale(0.973,1)" class="yl">KPF3R (µg/g DW)</text></g>
</svg>
</body></html>
